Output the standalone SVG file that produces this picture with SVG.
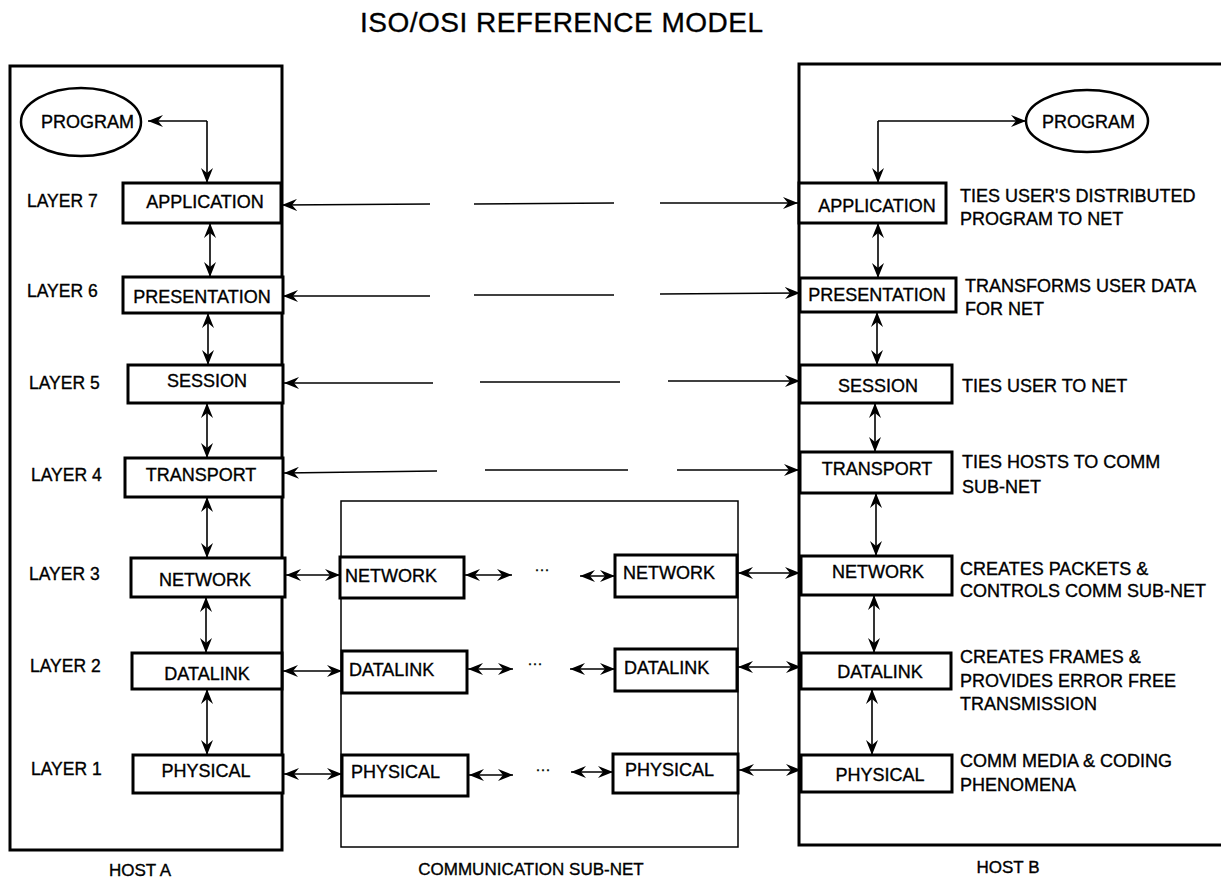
<svg xmlns="http://www.w3.org/2000/svg" width="1221" height="880" viewBox="0 0 1221 880">
<style>
text{font-family:"Liberation Sans",Arial,sans-serif;fill:#000;stroke:#000;stroke-width:0.35}
.t{font-size:18px}
.c{text-anchor:middle}
.lbl{font-size:17.5px}
.cap{font-size:17px;text-anchor:middle}
.host{fill:none;stroke:#000;stroke-width:3}
.sub{fill:none;stroke:#000;stroke-width:1.5}
.box{fill:#fff;stroke:#000;stroke-width:3}
.ell{fill:#fff;stroke:#000;stroke-width:2.5}
.ln{fill:none;stroke:#000;stroke-width:1.6}
.dbl{fill:none;stroke:#000;stroke-width:1.6;marker-start:url(#ah);marker-end:url(#ah)}
.end{fill:none;stroke:#000;stroke-width:1.6;marker-end:url(#ah)}
.dots{font-size:15px;text-anchor:middle}
</style>
<defs>
<marker id="ah" markerUnits="userSpaceOnUse" markerWidth="16" markerHeight="12" refX="15" refY="6" orient="auto-start-reverse" viewBox="0 0 16 12">
<path d="M0,0 L15,6 L0,12 L5,6 z" fill="#000"/>
</marker>
</defs>
<rect width="1221" height="880" fill="#fff"/>
<text id="title" x="360" y="32" font-size="28" textLength="403" lengthAdjust="spacing">ISO/OSI REFERENCE MODEL</text>

<g id="hostA">
<rect class="host" x="10" y="66" width="272" height="784"/>
<text class="cap" x="140" y="876">HOST A</text>
</g>
<g id="subnet">
<rect class="sub" x="341" y="501" width="397" height="346"/>
<text class="cap" x="531" y="875">COMMUNICATION SUB-NET</text>
</g>
<g id="hostB">
<rect class="host" x="799" y="64" width="440" height="781"/>
<text class="cap" x="1008" y="873">HOST B</text>
</g>

<g id="layer-labels">
<text class="lbl" x="27" y="207">LAYER 7</text>
<text class="lbl" x="27" y="297">LAYER 6</text>
<text class="lbl" x="29" y="389">LAYER 5</text>
<text class="lbl" x="31" y="481">LAYER 4</text>
<text class="lbl" x="29" y="580">LAYER 3</text>
<text class="lbl" x="30" y="672">LAYER 2</text>
<text class="lbl" x="31" y="775">LAYER 1</text>
</g>

<g id="connectors">
<!-- program arrows -->
<path class="end" d="M207,121 L148,121"/>
<path class="end" d="M207,121 L207,183"/>
<path class="end" d="M878,121 L1026,121"/>
<path class="end" d="M878,121 L878,183"/>
<!-- host A verticals -->
<path class="dbl" d="M210,223 L210,277"/>
<path class="dbl" d="M208,313 L208,365"/>
<path class="dbl" d="M207,403 L207,458"/>
<path class="dbl" d="M207,497 L207,558"/>
<path class="dbl" d="M206,597 L206,653"/>
<path class="dbl" d="M207,689 L207,755"/>
<!-- host B verticals -->
<path class="dbl" d="M878,223 L878,278"/>
<path class="dbl" d="M877,312 L877,365"/>
<path class="dbl" d="M875,403 L875,452"/>
<path class="dbl" d="M876,493 L876,556"/>
<path class="dbl" d="M874,595 L874,653"/>
<path class="dbl" d="M872,689 L872,755"/>
<!-- peer protocol lines -->
<path class="end" d="M430,204 L282,205"/>
<path class="ln" d="M474,204 L614,203"/>
<path class="end" d="M660,203 L798,203"/>
<path class="end" d="M430,296 L283,296"/>
<path class="ln" d="M474,295 L614,295"/>
<path class="end" d="M660,294 L800,293"/>
<path class="end" d="M433,383 L284,383"/>
<path class="ln" d="M480,382 L620,382"/>
<path class="end" d="M668,381 L800,381"/>
<path class="end" d="M437,471 L284,473"/>
<path class="ln" d="M485,470 L628,470"/>
<path class="end" d="M677,470 L799,470"/>
<!-- host A to subnet -->
<path class="dbl" d="M286,575 L340,575"/>
<path class="dbl" d="M283,671 L342,671"/>
<path class="dbl" d="M284,774 L342,774"/>
<!-- inside subnet -->
<path class="dbl" d="M465,575 L512,575"/>
<path class="dbl" d="M580,576 L615,576"/>
<path class="dbl" d="M468,669 L513,669"/>
<path class="dbl" d="M570,669 L615,669"/>
<path class="dbl" d="M469,775 L513,775"/>
<path class="dbl" d="M571,772 L613,772"/>
<!-- subnet to host B -->
<path class="dbl" d="M738,573 L800,573"/>
<path class="dbl" d="M738,667 L801,667"/>
<path class="dbl" d="M739,770 L801,770"/>
</g>

<g id="dots">
<text class="dots" x="542" y="574">···</text>
<text class="dots" x="535" y="668">···</text>
<text class="dots" x="543" y="774">···</text>
</g>

<g id="programA"><ellipse class="ell" cx="81" cy="122" rx="60" ry="34"/><text class="t" x="41" y="128" font-size="17">PROGRAM</text></g>
<g id="programB"><ellipse class="ell" cx="1087" cy="121" rx="61" ry="31"/><text class="t" x="1042" y="128" font-size="17">PROGRAM</text></g>

<g id="a-application"><rect class="box" x="123" y="183" width="158" height="40"/><text class="t c" x="205" y="208">APPLICATION</text></g>
<g id="a-presentation"><rect class="box" x="123" y="277" width="160" height="36"/><text class="t c" x="202" y="303">PRESENTATION</text></g>
<g id="a-session"><rect class="box" x="128" y="365" width="155" height="38"/><text class="t c" x="207" y="387">SESSION</text></g>
<g id="a-transport"><rect class="box" x="125" y="458" width="158" height="39"/><text class="t c" x="201" y="481">TRANSPORT</text></g>
<g id="a-network"><rect class="box" x="131" y="558" width="154" height="39"/><text class="t c" x="205" y="586">NETWORK</text></g>
<g id="a-datalink"><rect class="box" x="132" y="653" width="150" height="36"/><text class="t c" x="207" y="680">DATALINK</text></g>
<g id="a-physical"><rect class="box" x="133" y="755" width="150" height="38"/><text class="t c" x="206" y="777">PHYSICAL</text></g>

<g id="s-network1"><rect class="box" x="340" y="557" width="124" height="41"/><text class="t" x="345" y="582">NETWORK</text></g>
<g id="s-network2"><rect class="box" x="615" y="555" width="122" height="42"/><text class="t" x="623" y="579">NETWORK</text></g>
<g id="s-datalink1"><rect class="box" x="342" y="651" width="125" height="42"/><text class="t" x="349" y="676">DATALINK</text></g>
<g id="s-datalink2"><rect class="box" x="615" y="649" width="122" height="42"/><text class="t" x="624" y="674">DATALINK</text></g>
<g id="s-physical1"><rect class="box" x="342" y="755" width="126" height="41"/><text class="t" x="351" y="778">PHYSICAL</text></g>
<g id="s-physical2"><rect class="box" x="613" y="754" width="125" height="39"/><text class="t" x="625" y="776">PHYSICAL</text></g>

<g id="b-application"><rect class="box" x="799" y="183" width="147" height="40"/><text class="t c" x="877" y="212">APPLICATION</text></g>
<g id="b-presentation"><rect class="box" x="800" y="278" width="156" height="34"/><text class="t c" x="877" y="301">PRESENTATION</text></g>
<g id="b-session"><rect class="box" x="800" y="365" width="152" height="38"/><text class="t c" x="878" y="392">SESSION</text></g>
<g id="b-transport"><rect class="box" x="800" y="452" width="152" height="41"/><text class="t c" x="877" y="475">TRANSPORT</text></g>
<g id="b-network"><rect class="box" x="801" y="556" width="151" height="39"/><text class="t c" x="878" y="578">NETWORK</text></g>
<g id="b-datalink"><rect class="box" x="801" y="653" width="150" height="36"/><text class="t c" x="880" y="678">DATALINK</text></g>
<g id="b-physical"><rect class="box" x="801" y="755" width="151" height="37"/><text class="t c" x="880" y="781">PHYSICAL</text></g>

<g id="descriptions">
<text class="t" x="960" y="202">TIES USER'S DISTRIBUTED</text>
<text class="t" x="960" y="225">PROGRAM TO NET</text>
<text class="t" x="965" y="292">TRANSFORMS USER DATA</text>
<text class="t" x="965" y="315">FOR NET</text>
<text class="t" x="962" y="392">TIES USER TO NET</text>
<text class="t" x="962" y="468">TIES HOSTS TO COMM</text>
<text class="t" x="962" y="493">SUB-NET</text>
<text class="t" x="960" y="575">CREATES PACKETS &amp;</text>
<text class="t" x="960" y="597">CONTROLS COMM SUB-NET</text>
<text class="t" x="960" y="663">CREATES FRAMES &amp;</text>
<text class="t" x="960" y="687">PROVIDES ERROR FREE</text>
<text class="t" x="960" y="710">TRANSMISSION</text>
<text class="t" x="960" y="767">COMM MEDIA &amp; CODING</text>
<text class="t" x="960" y="791">PHENOMENA</text>
</g>
</svg>
